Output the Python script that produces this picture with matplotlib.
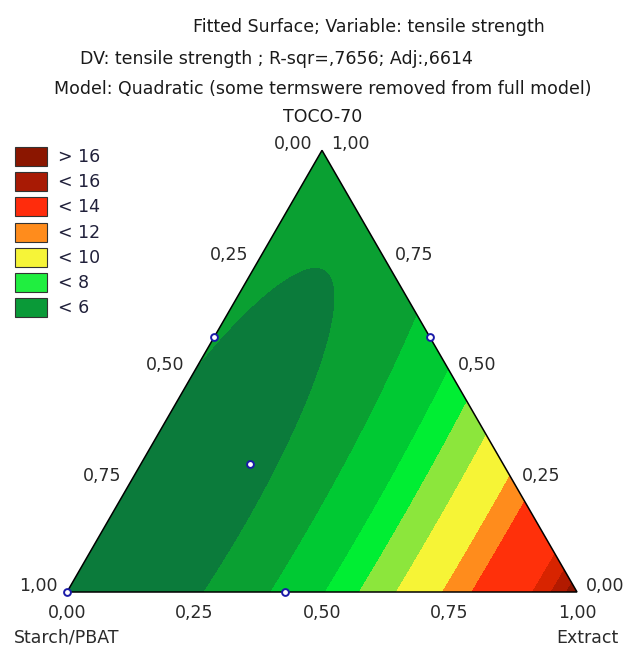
import numpy as np
import matplotlib.pyplot as plt
from matplotlib.patches import Polygon, Rectangle

plt.rcParams['font.family'] = ['DejaVu Sans']

W, H = 628, 646

# fitted quadratic surface, written in centred form (valley + curvature)
valley_extract = 0.12
valley_toco = 0.15
width_extract = 0.15
width_toco = 0.57
valley_min = 3.8
curvature = 0.38

band_edges = [0, 4.2, 5.15, 6.35, 7.3, 8.5, 10.25, 11.5, 14.45, 15.45, 16.3, 20]
band_colors = ['#0b7b3b', '#0aa032', '#00c933', '#00ee33', '#8ce63c', '#f6f436',
               '#ff8c1c', '#ff300a', '#d82400', '#b21a00', '#8a1400']

legend_labels = ['> 16', '< 16', '< 14', '< 12', '< 10', '< 8', '< 6']
legend_colors = ['#8b1600', '#a81a04', '#ff2c0c', '#ff8c1c', '#f6f438', '#20ee40', '#0a9a38']

# design points (fractions)
pt_starch = [1.0, 0.422, 0.497, 0.573, 0.0]
pt_toco = [0.0, 0.578, 0.289, 0.0, 0.578]
pt_extract = [0.0, 0.0, 0.214, 0.427, 0.422]

ticks = [0.0, 0.25, 0.5, 0.75, 1.0]

title_lines = ['Fitted Surface; Variable: tensile strength',
               'DV: tensile strength ; R-sqr=,7656; Adj:,6614',
               'Model: Quadratic (some termswere removed from full model)']


def tern(toco, extract):
    return extract + toco / 2, toco * np.sqrt(3) / 2


def fpx(x, y):
    return x / W, 1 - y / H


fig = plt.figure(figsize=(W / 100, H / 100), dpi=100)
ax = fig.add_axes([0, 0, 1, 1])
ax.set_xlim(-67 / 510, (W - 67) / 510)
ax.set_ylim(-54 / 510, (H - 54) / 510)
ax.axis('off')

xx, yy = np.meshgrid(np.linspace(-0.01, 1.01, 700), np.linspace(-0.01, 0.88, 620))
T = yy * 2 / np.sqrt(3)
E = xx - yy / np.sqrt(3)
Z = valley_min + curvature * (((E - valley_extract) / width_extract) ** 2 +
                              ((T - valley_toco) / width_toco) ** 2)
cf = ax.contourf(xx, yy, Z, levels=band_edges, colors=band_colors)

tri = Polygon([tern(0, 0), tern(1, 0), tern(0, 1)], closed=True, fill=False,
              ec='black', lw=1.1, zorder=3)
ax.add_patch(tri)
cf.set_clip_path(tri)

px, py = tern(np.array(pt_toco), np.array(pt_extract))
ax.scatter(px, py, s=24, facecolor='white', edgecolor='#1a1aa8', lw=1.4, zorder=4, clip_on=False)

u = 1 / 510
tc = '#2a2a2a'
fs = 12.5
for v in ticks:
    lab = f'{v:.2f}'.replace('.', ',')
    x, y = tern(1 - v, 0)
    ax.text(x - 29 * u, y + 6 * u, lab, ha='center', va='center', fontsize=fs, color=tc)
    x, y = tern(v, 1 - v)
    ax.text(x + 28 * u, y + 6 * u, lab, ha='center', va='center', fontsize=fs, color=tc)
    x, y = tern(0, v)
    ax.text(x, y - 21 * u, lab, ha='center', va='center', fontsize=fs, color=tc)

x, y = tern(0, 0)
ax.text(x, y - 45 * u, 'Starch/PBAT', ha='center', va='center', fontsize=fs, color=tc)
x, y = tern(0, 1)
ax.text(x + 10 * u, y - 46 * u, 'Extract', ha='center', va='center', fontsize=fs, color=tc)

for txt, (cx, cy) in zip(title_lines + ['TOCO-70'], [(369, 27), (276, 59), (323, 89), (323, 117)]):
    fig.text(*fpx(cx, cy), txt, ha='center', va='center', fontsize=fs, color='#1a1a1a')

for i, (lab, col) in enumerate(zip(legend_labels, legend_colors)):
    top = 147 + 25.2 * i
    fig.add_artist(Rectangle(fpx(15, top + 19), 32 / W, 19 / H, transform=fig.transFigure,
                             facecolor=col, edgecolor='#333333', lw=0.8))
    fig.text(*fpx(58, top + 10), lab, ha='left', va='center', fontsize=fs, color='#20203a')

fig.savefig('out.png', dpi=100)
